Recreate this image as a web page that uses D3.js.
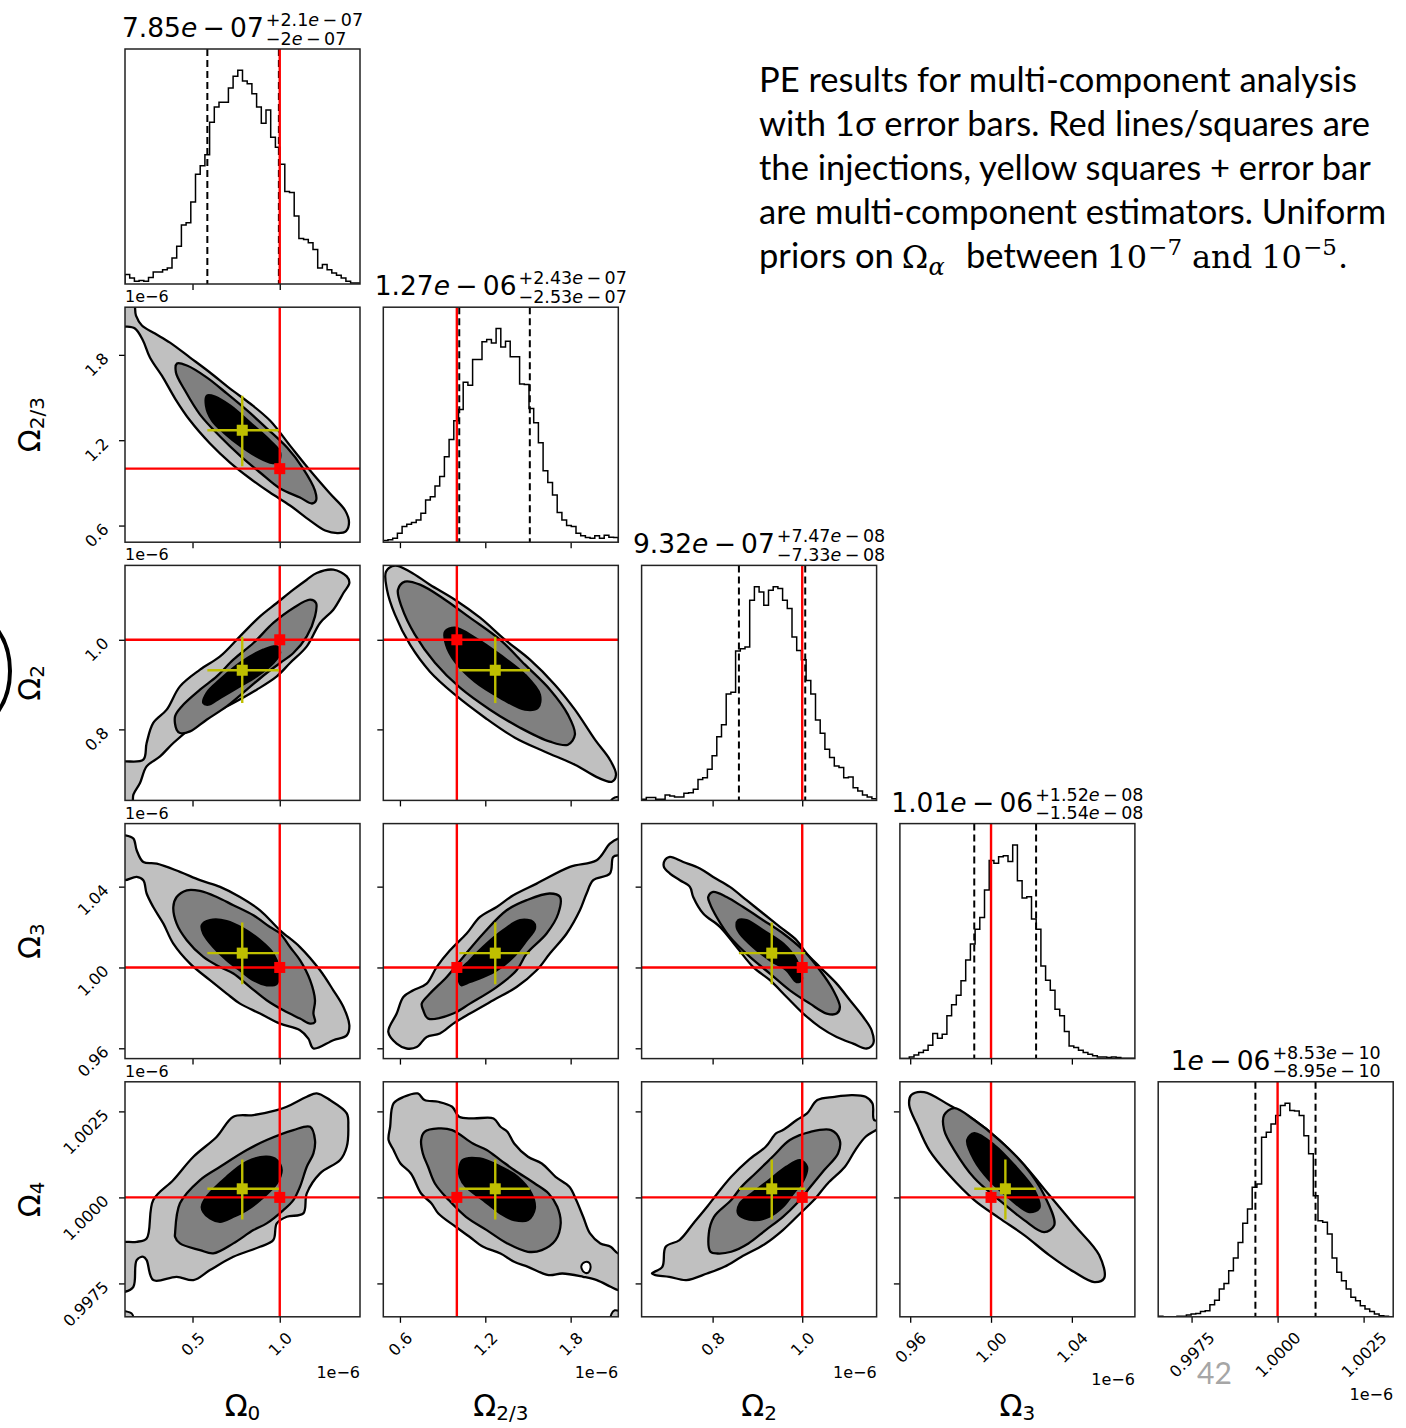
<!DOCTYPE html>
<html>
<head>
<meta charset="utf-8">
<script src="https://cdn.jsdelivr.net/npm/d3@7"></script>
<style>
  body { margin: 0; background: #ffffff; }
  svg { display: block; }
</style>
</head>
<body>
<svg id="chart" width="1406" height="1428"></svg>
<script>
// ---------------------------------------------------------------
// Posterior corner plot for the multi-component Omega_alpha fit.
// All parameter values are in units of 1e-6.
// ---------------------------------------------------------------
const paramSubscripts = ["0", "2/3", "2", "3", "4"];
const truths   = [1.0, 1.0, 1.0, 1.0, 1.0];
const medians  = [0.785, 1.27, 0.932, 1.0071, 1.00025];
const errLow   = [0.20, 0.253, 0.0733, 0.0154, 0.000895];
const errHigh  = [0.21, 0.243, 0.0747, 0.0152, 0.000853];

const axisDomains = [
  [0.113, 1.460],
  [0.483, 2.135],
  [0.6415, 1.166],
  [0.9549, 1.0712],
  [0.99653, 1.00336]
];
const tickValues = [
  [0.5, 1.0],
  [0.6, 1.2, 1.8],
  [0.8, 1.0],
  [0.96, 1.00, 1.04],
  [0.9975, 1.0000, 1.0025]
];
const tickLabels = [
  ["0.5", "1.0"],
  ["0.6", "1.2", "1.8"],
  ["0.8", "1.0"],
  ["0.96", "1.00", "1.04"],
  ["0.9975", "1.0000", "1.0025"]
];

// 1-D marginal histograms (50 bins across each axis range, relative counts)
const hist0 = [4.4,2.8,1.3,1.6,1.3,3.1,5.6,5.6,6.7,7.5,12.2,17.7,27.6,28.7,38.4,51.4,55.3,60.5,75.7,82.8,85.1,85.1,91.8,97.2,100,95.0,93.7,89.0,82.8,75.2,81.5,68.7,64.0,56.1,43.3,42.8,31.8,21.3,20.8,19.3,16.1,7.5,9.1,6.7,5.2,4.1,2.8,1.3,0.5,0.5];
const hist1 = [0.8,1.1,1.9,4.2,7.3,8.4,9.2,10.4,13.6,19.8,21.3,26.3,30.7,40.0,48.1,56.9,62.1,74.9,73.5,85.5,85.5,93.8,94.9,93.3,100,91.4,94.1,86.8,86.8,74.0,73.8,62.6,55.9,46.6,33.5,27.9,22.1,13.9,10.4,7.8,7.3,4.2,3.0,2.2,1.9,3.0,1.9,3.3,2.3,2.2];
const hist2 = [0.5,1.3,1.3,0.5,0.5,2.5,2.0,1.6,1.6,3.3,3.6,5.2,9.8,10.6,14.5,20.8,29.7,35.3,49.7,50.5,69.7,70.8,71.6,93.4,99.7,97.3,91.1,98.1,99.7,98.9,93.4,89.5,76.3,70.0,65.6,55.9,49.7,37.5,31.3,23.9,20.0,16.1,15.3,10.6,10.9,5.9,4.4,2.5,1.6,0.8];
const hist3 = [0,0,0.8,1.7,2.8,3.9,6.3,11.7,9.5,11.4,20.0,25.2,29.7,36.4,46.1,53.6,60.6,66.1,78.9,92.7,91.4,94.5,95.0,92.3,100,83.3,75.2,75.8,65.3,60.6,43.4,36.7,32.0,23.1,20.0,12.7,5.9,5.2,3.9,2.8,2.0,1.3,0.8,0.8,0.5,0.8,0.5,0.2,0.2,0.2];
const hist4 = [0.3,0,0,0,0.3,0.3,0.9,1.3,1.6,2.5,2.8,5.6,7.8,13.0,15.6,21.6,27.5,34.8,43.8,50.5,60.6,62.2,84.1,86.4,90.3,94.2,98.9,100,96.6,96.3,94.2,84.8,76.3,56.7,45.0,44.2,38.8,27.5,20.8,16.9,13.0,9.1,7.5,5.2,3.6,2.5,1.3,0.5,0.3,0];

// 2-D credible-region outlines [x, y] (outer, middle, inner level)
const c10Outer = [[0.159,2.182],[0.176,2.076],[0.210,2.006],[0.285,1.950],[0.371,1.886],[0.486,1.781],[0.600,1.676],[0.715,1.563],[0.830,1.458],[0.944,1.338],[1.059,1.162],[1.174,0.987],[1.288,0.825],[1.375,0.706],[1.397,0.621],[1.380,0.561],[1.334,0.547],[1.260,0.565],[1.174,0.635],[1.059,0.741],[0.944,0.832],[0.830,0.931],[0.715,1.043],[0.600,1.177],[0.486,1.338],[0.400,1.493],[0.331,1.640],[0.256,1.781],[0.216,1.901],[0.170,1.985],[0.113,1.999],[0.056,1.999],[0.056,2.182]];
const c10Mid = [[0.411,1.739],[0.468,1.725],[0.583,1.640],[0.698,1.527],[0.813,1.409],[0.927,1.282],[1.042,1.148],[1.134,1.001],[1.202,0.846],[1.208,0.776],[1.185,0.755],[1.116,0.797],[1.002,0.860],[0.887,0.973],[0.772,1.092],[0.658,1.226],[0.543,1.380],[0.457,1.549],[0.405,1.676]];
const c10Inner = [[0.583,1.514],[0.629,1.507],[0.715,1.444],[0.830,1.324],[0.944,1.198],[1.002,1.113],[0.990,1.043],[0.944,1.043],[0.858,1.092],[0.772,1.162],[0.686,1.247],[0.612,1.338],[0.577,1.444]];

const c20Outer = [[1.307,1.1565],[1.384,1.1415],[1.399,1.1268],[1.365,1.1044],[1.307,1.0672],[1.231,1.0375],[1.155,0.9853],[1.059,0.9482],[0.983,0.9183],[0.868,0.8886],[0.734,0.8589],[0.619,0.8366],[0.505,0.8067],[0.390,0.7696],[0.314,0.7397],[0.237,0.7174],[0.199,0.6803],[0.161,0.6542],[0.151,0.6207],[0.056,0.6207],[0.056,0.7286],[0.113,0.7286],[0.218,0.7324],[0.237,0.7696],[0.275,0.8143],[0.352,0.8440],[0.428,0.8960],[0.543,0.9333],[0.658,0.9629],[0.772,1.0076],[0.887,1.0522],[0.983,1.0821],[1.078,1.1118],[1.155,1.1341],[1.212,1.1491]];
const c20Mid = [[0.409,0.7993],[0.400,0.8290],[0.438,0.8513],[0.543,0.8886],[0.639,0.9183],[0.734,0.9556],[0.849,0.9928],[0.963,1.0375],[1.078,1.0710],[1.174,1.0895],[1.208,1.0821],[1.202,1.0522],[1.155,1.0076],[1.078,0.9705],[1.002,0.9482],[0.925,0.9259],[0.811,0.8886],[0.696,0.8513],[0.581,0.8216],[0.486,0.7955],[0.428,0.7919]];
const c20Inner = [[0.562,0.8589],[0.581,0.8812],[0.658,0.9109],[0.772,0.9482],[0.906,0.9779],[0.983,0.9853],[1.002,0.9705],[0.963,0.9482],[0.868,0.9183],[0.772,0.8960],[0.658,0.8701],[0.591,0.8551]];

const c30Outer = [[0.056,1.0654],[0.113,1.0654],[0.161,1.0638],[0.180,1.0580],[0.218,1.0522],[0.295,1.0514],[0.428,1.0473],[0.543,1.0432],[0.658,1.0399],[0.772,1.0349],[0.887,1.0283],[1.002,1.0184],[1.116,1.0101],[1.231,0.9986],[1.307,0.9887],[1.365,0.9804],[1.399,0.9714],[1.384,0.9664],[1.307,0.9640],[1.193,0.9599],[1.164,0.9648],[1.116,0.9689],[1.002,0.9722],[0.887,0.9772],[0.772,0.9821],[0.696,0.9871],[0.600,0.9937],[0.486,1.0019],[0.390,1.0118],[0.333,1.0217],[0.275,1.0299],[0.237,1.0366],[0.218,1.0432],[0.180,1.0448],[0.113,1.0432],[0.056,1.0432]];
const c30Mid = [[0.409,1.0349],[0.467,1.0382],[0.543,1.0379],[0.639,1.0349],[0.734,1.0308],[0.849,1.0258],[0.944,1.0200],[1.002,1.0168],[1.059,1.0101],[1.116,1.0036],[1.174,0.9937],[1.202,0.9838],[1.193,0.9772],[1.202,0.9730],[1.174,0.9722],[1.116,0.9747],[1.021,0.9788],[0.925,0.9838],[0.830,0.9903],[0.734,0.9970],[0.658,1.0002],[0.562,1.0052],[0.467,1.0135],[0.409,1.0217],[0.390,1.0299]];
const c30Inner = [[0.553,1.0209],[0.600,1.0234],[0.696,1.0230],[0.791,1.0193],[0.887,1.0135],[0.963,1.0069],[0.992,1.0002],[0.983,0.9920],[0.925,0.9912],[0.849,0.9937],[0.772,0.9986],[0.696,1.0036],[0.619,1.0101],[0.562,1.0168]];

const c40Outer = [[0.056,0.99871],[0.113,0.99871],[0.180,0.99871],[0.237,0.998809],[0.275,0.999922],[0.390,1.000504],[0.505,1.001181],[0.639,1.001763],[0.734,1.002344],[0.849,1.002393],[0.983,1.002539],[1.040,1.002635],[1.155,1.002925],[1.212,1.003024],[1.288,1.002829],[1.384,1.002443],[1.393,1.002053],[1.384,1.001472],[1.346,1.001085],[1.231,1.000699],[1.155,1.000117],[1.135,0.999536],[1.040,0.999437],[0.983,0.999245],[0.963,0.99876],[0.887,0.998565],[0.734,0.998274],[0.600,0.997888],[0.505,0.997597],[0.409,0.997693],[0.275,0.997597],[0.237,0.998178],[0.218,0.998274],[0.180,0.998178],[0.161,0.997402],[0.113,0.997257],[0.056,0.997257]];
const c40Mid = [[0.400,0.998954],[0.428,0.999827],[0.543,1.000504],[0.658,1.00089],[0.811,1.001376],[0.925,1.001667],[1.078,1.001957],[1.174,1.002053],[1.202,1.001667],[1.193,1.00128],[1.155,1.00089],[1.116,1.000309],[1.078,0.999922],[1.021,0.999632],[0.925,0.999245],[0.849,0.99905],[0.734,0.998664],[0.619,0.998373],[0.543,0.998469],[0.428,0.998664],[0.400,0.998856]];
const c40Inner = [[0.553,0.999728],[0.581,1.000018],[0.696,1.0006],[0.811,1.001036],[0.925,1.001181],[0.983,1.001085],[1.011,1.000795],[0.983,1.000408],[0.887,0.999922],[0.811,0.999632],[0.734,0.999437],[0.658,0.999292],[0.600,0.99939],[0.562,0.999582]];
const c40Blob = [[0.09,0.9964],[0.09,0.99668],[0.125,0.99668],[0.150,0.99663],[0.162,0.99652],[0.165,0.9964]];

const c21Outer = [[0.502,1.1520],[0.565,1.1654],[0.671,1.1520],[0.811,1.1230],[0.987,1.0895],[1.163,1.0493],[1.338,1.0002],[1.514,0.9556],[1.689,0.8998],[1.830,0.8440],[1.971,0.7770],[2.076,0.7323],[2.119,0.6989],[2.090,0.6832],[1.992,0.6922],[1.830,0.7212],[1.619,0.7502],[1.408,0.7815],[1.198,0.8261],[0.987,0.8774],[0.811,0.9288],[0.671,0.9890],[0.565,1.0560],[0.509,1.1118]];
const c21Mid = [[0.586,1.1118],[0.635,1.1297],[0.741,1.1230],[0.917,1.0895],[1.092,1.0493],[1.303,1.0002],[1.479,0.9444],[1.655,0.8886],[1.781,0.8329],[1.830,0.7882],[1.781,0.7658],[1.655,0.7725],[1.444,0.8038],[1.233,0.8440],[1.022,0.8931],[0.846,0.9488],[0.705,1.0114],[0.614,1.0716]];
const c21Inner = [[0.917,1.0181],[0.987,1.0270],[1.127,1.0047],[1.303,0.9667],[1.479,0.9221],[1.584,0.8774],[1.570,0.8484],[1.479,0.8440],[1.303,0.8707],[1.127,0.9064],[0.987,0.9511],[0.924,0.9890]];
const c21Blob = [[2.07,0.630],[2.08,0.640],[2.11,0.648],[2.15,0.648],[2.15,0.630]];

const c31Outer = [[0.518,0.9681],[0.577,0.9772],[0.624,0.9854],[0.694,0.9887],[0.788,0.9920],[0.858,1.0002],[0.952,1.0085],[1.069,1.0168],[1.163,1.0250],[1.280,1.0299],[1.397,1.0357],[1.561,1.0415],[1.795,1.0498],[1.983,1.0531],[2.076,1.0613],[2.134,1.0638],[2.181,1.0638],[2.181,1.0555],[2.139,1.0555],[2.099,1.0547],[2.076,1.0465],[1.959,1.0432],[1.912,1.0366],[1.865,1.0283],[1.772,1.0168],[1.654,1.0069],[1.561,0.9986],[1.420,0.9903],[1.256,0.9838],[1.092,0.9772],[0.975,0.9722],[0.881,0.9673],[0.788,0.9656],[0.718,0.9606],[0.647,0.9599],[0.577,0.9623]];
const c31Mid = [[0.764,0.9788],[0.753,0.9821],[0.811,0.9871],[0.929,0.9953],[1.045,1.0052],[1.186,1.0168],[1.350,1.0283],[1.491,1.0333],[1.654,1.0366],[1.725,1.0349],[1.713,1.0267],[1.631,1.0168],[1.491,1.0069],[1.420,0.9986],[1.280,0.9903],[1.092,0.9821],[0.975,0.9772],[0.799,0.9747]];
const c31Inner = [[1.022,0.9920],[1.010,0.9970],[1.092,1.0036],[1.210,1.0118],[1.326,1.0184],[1.444,1.0234],[1.537,1.0225],[1.549,1.0193],[1.491,1.0135],[1.397,1.0052],[1.280,0.9986],[1.186,0.9953],[1.092,0.9928],[1.034,0.9912]];

const c41Outer = [[0.531,1.002053],[0.555,1.00273],[0.628,1.002925],[0.725,1.003021],[0.773,1.002829],[0.870,1.00278],[0.967,1.002635],[1.016,1.002344],[1.113,1.002295],[1.258,1.002295],[1.307,1.002053],[1.355,1.001908],[1.403,1.001568],[1.500,1.001181],[1.597,1.000986],[1.694,1.0006],[1.791,1.000309],[1.839,0.999922],[1.888,0.999437],[1.936,0.998952],[2.009,0.998661],[2.081,0.998565],[2.134,0.99837],[2.181,0.99837],[2.181,0.997306],[2.134,0.997306],[2.081,0.997402],[1.984,0.997597],[1.888,0.997693],[1.742,0.997789],[1.645,0.997742],[1.500,0.997983],[1.403,0.998129],[1.307,0.99837],[1.185,0.998565],[1.089,0.998856],[0.992,0.999146],[0.870,0.999533],[0.822,0.999824],[0.749,1.000114],[0.677,1.000696],[0.604,1.000986],[0.555,1.001376],[0.520,1.001667]];
const c41Mid = [[0.749,1.001667],[0.773,1.001908],[0.870,1.002004],[0.967,1.001957],[1.113,1.001568],[1.210,1.001376],[1.307,1.001085],[1.403,1.000795],[1.548,1.000405],[1.645,1.000114],[1.706,0.999728],[1.730,0.999242],[1.694,0.99876],[1.597,0.998469],[1.500,0.99842],[1.355,0.998661],[1.210,0.99905],[1.064,0.999437],[0.943,0.999922],[0.846,1.000405],[0.798,1.00089],[0.761,1.001277]];
const c41Inner = [[1.016,1.000795],[1.040,1.001085],[1.161,1.001132],[1.307,1.00089],[1.427,1.0006],[1.524,1.000114],[1.548,0.999678],[1.500,0.999341],[1.403,0.999341],[1.307,0.999533],[1.185,0.999922],[1.064,1.000309],[1.021,1.0006]];
const c41Hole = [[1.875,0.99800],[1.900,0.99812],[1.930,0.99810],[1.940,0.99796],[1.922,0.99781],[1.893,0.99783]];
const c41Blob = [[2.085,0.9964],[2.088,0.99662],[2.110,0.99672],[2.140,0.99670],[2.200,0.99670],[2.200,0.9964]];

const c32Outer = [[0.6935,1.0531],[0.7047,1.0547],[0.7344,1.0522],[0.7716,1.0490],[0.8013,1.0448],[0.8386,1.0399],[0.8759,1.0333],[0.9129,1.0267],[0.9502,1.0201],[0.9875,1.0135],[1.0098,1.0069],[1.0395,1.0002],[1.0768,0.9920],[1.1065,0.9838],[1.1362,0.9755],[1.1549,0.9689],[1.1585,0.9623],[1.1437,0.9599],[1.1138,0.9623],[1.0768,0.9656],[1.0395,0.9705],[1.0022,0.9772],[0.9652,0.9854],[0.9279,0.9937],[0.8906,1.0002],[0.8536,1.0101],[0.8163,1.0201],[0.7790,1.0267],[0.7567,1.0349],[0.7493,1.0399],[0.7270,1.0432],[0.7047,1.0465],[0.6913,1.0498]];
const c32Mid = [[0.7902,1.0349],[0.8013,1.0374],[0.8312,1.0349],[0.8683,1.0299],[0.9129,1.0234],[0.9576,1.0168],[1.0022,1.0085],[1.0395,0.9986],[1.0692,0.9887],[1.0841,0.9804],[1.0768,0.9772],[1.0545,0.9772],[1.0172,0.9821],[0.9725,0.9887],[0.9279,0.9970],[0.8832,1.0052],[0.8386,1.0151],[0.8089,1.0250],[0.7940,1.0316]];
const c32Inner = [[0.8536,1.0201],[0.8572,1.0234],[0.8759,1.0234],[0.9129,1.0184],[0.9576,1.0118],[0.9875,1.0036],[0.9987,0.9937],[0.9875,0.9928],[0.9652,0.9986],[0.9279,1.0036],[0.8906,1.0101],[0.8609,1.0168]];

const c42Outer = [[0.6645,0.997789],[0.6877,0.997983],[0.6953,0.998565],[0.7261,0.99876],[0.7569,0.999242],[0.7877,0.999728],[0.8107,1.000114],[0.8415,1.0006],[0.8799,1.001085],[0.9185,1.001472],[0.9415,1.001858],[0.9569,1.001957],[0.9877,1.002248],[1.0107,1.00244],[1.0337,1.002829],[1.0723,1.002925],[1.1107,1.002975],[1.1415,1.002925],[1.1569,1.00273],[1.1607,1.002248],[1.1799,1.002248],[1.1799,1.0021],[1.1415,1.001763],[1.1185,1.001376],[1.0953,1.00089],[1.0569,1.000405],[1.0261,0.999922],[0.9953,0.999533],[0.9569,0.99905],[0.9185,0.998661],[0.8645,0.998274],[0.8261,0.997983],[0.7877,0.997789],[0.7415,0.997597],[0.7031,0.997693],[0.6723,0.997742]];
const c42Mid = [[0.7953,0.99842],[0.7915,0.998952],[0.8031,0.999437],[0.8415,0.999922],[0.8645,1.000309],[0.8953,1.000696],[0.9337,1.001181],[0.9723,1.001667],[1.0185,1.001908],[1.0645,1.001957],[1.0837,1.001667],[1.0799,1.001277],[1.0491,1.000795],[1.0185,1.000309],[0.9877,0.999824],[0.9569,0.999437],[0.9185,0.99905],[0.8799,0.998661],[0.8415,0.99842],[0.8107,0.99837]];
const c42Inner = [[0.8569,0.999533],[0.8607,0.999824],[0.8877,1.000114],[0.9261,1.000504],[0.9645,1.00089],[0.9953,1.001085],[1.0107,1.00089],[1.0031,1.000504],[0.9799,1.000114],[0.9569,0.999728],[0.9261,0.999437],[0.8953,0.999341],[0.8723,0.999388]];

const c43Outer = [[0.9605,1.002975],[0.9669,1.003062],[0.9793,1.002684],[0.9917,1.002248],[1.0041,1.001667],[1.0164,1.00094],[1.0288,1.000068],[1.0412,0.999196],[1.0535,0.998323],[1.0560,0.997655],[1.0511,0.997539],[1.0412,0.997829],[1.0288,0.998323],[1.0164,0.998905],[1.0041,0.999399],[0.9917,0.999922],[0.9793,1.000649],[0.9694,1.001376],[0.9635,1.002102],[0.9595,1.002684]];
const c43Mid = [[0.9768,1.002393],[0.9818,1.002597],[0.9917,1.002248],[1.0041,1.001667],[1.0164,1.00094],[1.0263,1.000068],[1.0313,0.999196],[1.0263,0.998992],[1.0164,0.999341],[1.0041,0.999922],[0.9917,1.000562],[0.9818,1.001376],[0.9768,1.001957]];
const c43Inner = [[0.9882,1.001667],[0.9917,1.00187],[1.0016,1.001522],[1.0115,1.00094],[1.0214,1.000213],[1.0239,0.99969],[1.0189,0.999574],[1.0090,0.99998],[0.9991,1.000504],[0.9917,1.001085]];

// ---------------------------------------------------------------
// Layout and styling
// ---------------------------------------------------------------
const LEFT = 125, TOP = 49, STEP_X = 258.3, STEP_Y = 258.2, SIZE = 235;
const N = 5;
const FONT = "DejaVu Sans";
const LEVEL_FILLS = ["#c0c0c0", "#808080", "#000000"];
const RED = "#ff0000";
const YELLOW = "#bfbf00";

const histograms = [hist0, hist1, hist2, hist3, hist4];
const contourPanels = [
  { row: 1, col: 0, levels: [c10Outer, c10Mid, c10Inner] },
  { row: 2, col: 0, levels: [c20Outer, c20Mid, c20Inner] },
  { row: 3, col: 0, levels: [c30Outer, c30Mid, c30Inner] },
  { row: 4, col: 0, levels: [c40Outer, c40Mid, c40Inner] },
  { row: 2, col: 1, levels: [c21Outer, c21Mid, c21Inner] },
  { row: 3, col: 1, levels: [c31Outer, c31Mid, c31Inner] },
  { row: 4, col: 1, levels: [c41Outer, c41Mid, c41Inner] },
  { row: 3, col: 2, levels: [c32Outer, c32Mid, c32Inner] },
  { row: 4, col: 2, levels: [c42Outer, c42Mid, c42Inner] },
  { row: 4, col: 3, levels: [c43Outer, c43Mid, c43Inner] }
];
const extraPatches = [
  { row: 4, col: 0, pts: c40Blob, fill: LEVEL_FILLS[0] },
  { row: 2, col: 1, pts: c21Blob, fill: LEVEL_FILLS[0] },
  { row: 4, col: 1, pts: c41Blob, fill: LEVEL_FILLS[0] },
  { row: 4, col: 1, pts: c41Hole, fill: "#ffffff" }
];

const svg = d3.select("#chart");
const defs = svg.append("defs");

const panelX = j => LEFT + j * STEP_X;
const panelY = i => TOP + i * STEP_Y;
const xScaleFor = j => d3.scaleLinear().domain(axisDomains[j]).range([panelX(j), panelX(j) + SIZE]);
const yScaleFor = i => d3.scaleLinear().domain(axisDomains[i]).range([panelY(i) + SIZE, panelY(i)]);

function clipFor(i, j) {
  const id = `clip-${i}-${j}`;
  defs.append("clipPath").attr("id", id)
    .append("rect").attr("x", panelX(j)).attr("y", panelY(i)).attr("width", SIZE).attr("height", SIZE);
  return `url(#${id})`;
}

// Python-style "%.3g" pieces for a value given in units of 1e-6
function expParts(v) {
  const k = Math.floor(Math.log10(v));
  const m = (v / Math.pow(10, k)).toFixed(2).replace(/\.?0+$/, "");
  const e = k - 6;
  return { m, sign: e < 0 ? "\u2212" : "+", e: String(Math.abs(e)).padStart(2, "0") };
}
function appendExp(sel, p, lead) {
  if (lead) sel.append("tspan").text(lead);
  sel.append("tspan").text(p.m);
  sel.append("tspan").attr("font-style", "italic").text("e");
  sel.append("tspan").text("\u2009" + p.sign + "\u2009" + p.e);
}

// ---------------------------------------------------------------
// Panels
// ---------------------------------------------------------------
const lineGen = d3.line().curve(d3.curveCatmullRomClosed.alpha(0.5));
const xLabelBottoms = [];

for (let i = 0; i < N; i++) {
  for (let j = 0; j <= i; j++) {
    const xs = xScaleFor(j);
    const g = svg.append("g").attr("class", `panel-${i}-${j}`);
    const plot = g.append("g").attr("clip-path", clipFor(i, j));

    if (i === j) {
      // ---- marginal histogram ----
      const counts = histograms[j];
      const yh = d3.scaleLinear().domain([0, 1.1 * d3.max(counts)]).range([panelY(i) + SIZE, panelY(i)]);
      const [d0, d1] = axisDomains[j];
      const w = (d1 - d0) / counts.length;
      const pts = [[d0, 0]];
      counts.forEach((c, k) => { pts.push([d0 + k * w, c]); pts.push([d0 + (k + 1) * w, c]); });
      pts.push([d1, 0]);
      plot.append("path")
        .attr("d", d3.line().x(d => xs(d[0])).y(d => yh(d[1]))(pts))
        .attr("fill", "none").attr("stroke", "#000").attr("stroke-width", 1.5);

      [medians[j] - errLow[j], medians[j] + errHigh[j]].forEach(q => {
        plot.append("line")
          .attr("x1", xs(q)).attr("x2", xs(q))
          .attr("y1", panelY(i)).attr("y2", panelY(i) + SIZE)
          .attr("stroke", "#000").attr("stroke-width", 2).attr("stroke-dasharray", "7,4");
      });
      plot.append("line")
        .attr("x1", xs(truths[j])).attr("x2", xs(truths[j]))
        .attr("y1", panelY(i)).attr("y2", panelY(i) + SIZE)
        .attr("stroke", RED).attr("stroke-width", 2.4);

      // title: median with asymmetric errors, as a stacked super/subscript
      const tg = svg.append("g").attr("font-family", FONT).attr("fill", "#000");
      const main = tg.append("text").attr("font-size", 26.5).attr("x", 0).attr("y", 0);
      appendExp(main, expParts(medians[j]));
      const mw = main.node().getComputedTextLength();
      const sup = tg.append("text").attr("font-size", 17.5).attr("x", mw + 2).attr("y", -11);
      appendExp(sup, expParts(errHigh[j]), "+");
      const sub = tg.append("text").attr("font-size", 17.5).attr("x", mw + 2).attr("y", 7.5);
      appendExp(sub, expParts(errLow[j]), "\u2212");
      const sw = Math.max(sup.node().getComputedTextLength(), sub.node().getComputedTextLength());
      const total = mw + 2 + sw;
      tg.attr("transform", `translate(${panelX(j) + SIZE / 2 - total / 2},${panelY(i) - 12})`);
    } else {
      // ---- joint credible regions ----
      const ys = yScaleFor(i);
      const entry = contourPanels.find(c => c.row === i && c.col === j);
      const pathOf = pts => lineGen(pts.map(p => [xs(p[0]), ys(p[1])]));
      entry.levels.forEach((pts, k) => {
        plot.append("path").attr("d", pathOf(pts))
          .attr("fill", LEVEL_FILLS[k]).attr("stroke", "#000").attr("stroke-width", 2.3)
          .attr("stroke-linejoin", "round");
      });
      extraPatches.filter(p => p.row === i && p.col === j).forEach(p => {
        plot.append("path").attr("d", pathOf(p.pts))
          .attr("fill", p.fill).attr("stroke", "#000").attr("stroke-width", 2);
      });

      // injected values
      plot.append("line").attr("x1", xs(truths[j])).attr("x2", xs(truths[j]))
        .attr("y1", panelY(i)).attr("y2", panelY(i) + SIZE)
        .attr("stroke", RED).attr("stroke-width", 2.4);
      plot.append("line").attr("x1", panelX(j)).attr("x2", panelX(j) + SIZE)
        .attr("y1", ys(truths[i])).attr("y2", ys(truths[i]))
        .attr("stroke", RED).attr("stroke-width", 2.4);
      plot.append("rect")
        .attr("x", xs(truths[j]) - 5.5).attr("y", ys(truths[i]) - 5.5)
        .attr("width", 11).attr("height", 11).attr("fill", RED);

      // estimator with 1-sigma error bars
      const ex = medians[j], ey = medians[i];
      plot.append("line").attr("x1", xs(ex - errLow[j])).attr("x2", xs(ex + errHigh[j]))
        .attr("y1", ys(ey)).attr("y2", ys(ey))
        .attr("stroke", YELLOW).attr("stroke-width", 2.4);
      plot.append("line").attr("x1", xs(ex)).attr("x2", xs(ex))
        .attr("y1", ys(ey - errLow[i])).attr("y2", ys(ey + errHigh[i]))
        .attr("stroke", YELLOW).attr("stroke-width", 2.4);
      plot.append("rect")
        .attr("x", xs(ex) - 5.5).attr("y", ys(ey) - 5.5)
        .attr("width", 11).attr("height", 11).attr("fill", YELLOW);

      // y axis
      const yAxis = d3.axisLeft(ys).tickValues(tickValues[i]).tickSize(6).tickSizeOuter(0)
        .tickFormat((d, k) => j === 0 ? tickLabels[i][k] : "");
      const ya = g.append("g").attr("transform", `translate(${panelX(j)},0)`).call(yAxis)
        .attr("font-family", FONT).attr("font-size", 16);
      ya.select(".domain").remove();
      ya.selectAll(".tick line").attr("stroke", "#000").attr("stroke-width", 1.3);
      ya.selectAll(".tick text").each(function () {
        const t = d3.select(this);
        const tw = this.getComputedTextLength();
        const bb = (tw + 12) / Math.SQRT2;
        t.attr("x", 0).attr("y", 0).attr("dy", null)
          .attr("text-anchor", "middle").attr("dominant-baseline", "central").attr("fill", "#000")
          .attr("transform", `translate(${-15 - bb / 2},${-4 + bb / 2}) rotate(-45)`);
      });
    }

    // x axis
    const xAxis = d3.axisBottom(xs).tickValues(tickValues[j]).tickSize(6).tickSizeOuter(0)
      .tickFormat((d, k) => i === N - 1 ? tickLabels[j][k] : "");
    const xa = g.append("g").attr("transform", `translate(0,${panelY(i) + SIZE})`).call(xAxis)
      .attr("font-family", FONT).attr("font-size", 16);
    xa.select(".domain").remove();
    xa.selectAll(".tick line").attr("stroke", "#000").attr("stroke-width", 1.3);
    let maxBB = 0;
    xa.selectAll(".tick text").each(function () {
      const t = d3.select(this);
      const tw = this.getComputedTextLength();
      if (tw === 0) return;
      const bb = (tw + 12) / Math.SQRT2;
      maxBB = Math.max(maxBB, bb);
      t.attr("x", 0).attr("y", 0).attr("dy", null)
        .attr("text-anchor", "middle").attr("dominant-baseline", "central").attr("fill", "#000")
        .attr("transform", `translate(0,${14 + bb / 2}) rotate(-45)`);
    });
    if (i === N - 1) xLabelBottoms[j] = panelY(i) + SIZE + 14 + maxBB;

    // frame
    g.append("rect").attr("x", panelX(j)).attr("y", panelY(i))
      .attr("width", SIZE).attr("height", SIZE)
      .attr("fill", "none").attr("stroke", "#222").attr("stroke-width", 1.5);
  }
}

// ---------------------------------------------------------------
// Offset texts and axis labels
// ---------------------------------------------------------------
for (let i = 1; i < N; i++) {
  svg.append("text").attr("x", LEFT).attr("y", panelY(i) - 5)
    .attr("font-family", FONT).attr("font-size", 16).text("1e\u22126");
}
for (let j = 0; j < N; j++) {
  svg.append("text").attr("x", panelX(j) + SIZE).attr("y", xLabelBottoms[j] + 21)
    .attr("text-anchor", "end").attr("font-family", FONT).attr("font-size", 16).text("1e\u22126");
}
function omegaLabel(sel, sub) {
  sel.append("tspan").text("\u03A9");
  sel.append("tspan").attr("font-size", 20).attr("dy", 4).text(sub);
}
for (let j = 0; j < N - 1; j++) {
  const t = svg.append("text").attr("x", panelX(j) + SIZE / 2).attr("y", 1416)
    .attr("text-anchor", "middle").attr("font-family", FONT).attr("font-size", 30);
  omegaLabel(t, paramSubscripts[j]);
}
for (let i = 1; i < N; i++) {
  const t = svg.append("text")
    .attr("transform", `translate(40,${panelY(i) + SIZE / 2}) rotate(-90)`)
    .attr("text-anchor", "middle").attr("font-family", FONT).attr("font-size", 30);
  omegaLabel(t, paramSubscripts[i]);
}

// ---------------------------------------------------------------
// Slide annotation
// ---------------------------------------------------------------
const noteLines = [
  "PE results for multi-component analysis",
  "with 1\u03C3 error bars. Red lines/squares are",
  "the injections, yellow squares + error bar",
  "are multi-component estimators. Uniform"
];
const NOTE_X = 759, NOTE_Y0 = 92, NOTE_DY = 44;
const probe = svg.append("text").attr("font-family", "Lato").attr("font-size", 30).text(noteLines[0]);
const noteSize = 30 * 598 / probe.node().getComputedTextLength();
probe.remove();
noteLines.forEach((line, k) => {
  svg.append("text").attr("x", NOTE_X).attr("y", NOTE_Y0 + k * NOTE_DY)
    .attr("font-family", "Lato").attr("font-size", noteSize).attr("fill", "#000").text(line);
});

// last line mixes running text with a serif math expression;
// each piece starts at its preferred x or just after the previous piece
const lastY = NOTE_Y0 + 4 * NOTE_DY;
const SERIF = "DejaVu Serif";
const segs = [
  { x: 759,  gap: 0, t: "priors on", f: "Lato", s: noteSize, dy: 0 },
  { x: 898,  gap: 8, t: "\u03A9", f: SERIF, s: 32, dy: 0 },
  { x: 925,  gap: 0, t: "\u03B1", f: SERIF, s: 24, dy: 7, it: true },
  { x: 966,  gap: 18, t: "between", f: "Lato", s: noteSize, dy: 0 },
  { x: 1101, gap: 8, t: "10", f: SERIF, s: 32, dy: 0 },
  { x: 1144, gap: 1, t: "\u22127", f: SERIF, s: 23, dy: -13 },
  { x: 1192, gap: 9, t: "and", f: SERIF, s: 32, dy: 0 },
  { x: 1261, gap: 9, t: "10", f: SERIF, s: 32, dy: 0 },
  { x: 1303, gap: 1, t: "\u22125", f: SERIF, s: 23, dy: -13 },
  { x: 1338, gap: 1, t: ".", f: SERIF, s: 32, dy: 0 }
];
let prevEnd = 0;
segs.forEach(sg => {
  const x = Math.max(sg.x, prevEnd + sg.gap);
  const t = svg.append("text").attr("x", x).attr("y", lastY + sg.dy)
    .attr("font-family", sg.f).attr("font-size", sg.s)
    .attr("font-style", sg.it ? "italic" : null).attr("fill", "#000").text(sg.t);
  prevEnd = x + t.node().getComputedTextLength();
});

// page number and bracket from the surrounding slide
svg.append("text").attr("x", 1197).attr("y", 1384)
  .attr("font-family", "Lato").attr("font-size", 30).attr("fill", "#a6a6a6").text("42");
svg.append("ellipse").attr("cx", -30).attr("cy", 671).attr("rx", 40).attr("ry", 57)
  .attr("fill", "none").attr("stroke", "#000").attr("stroke-width", 4);
</script>
</body>
</html>
